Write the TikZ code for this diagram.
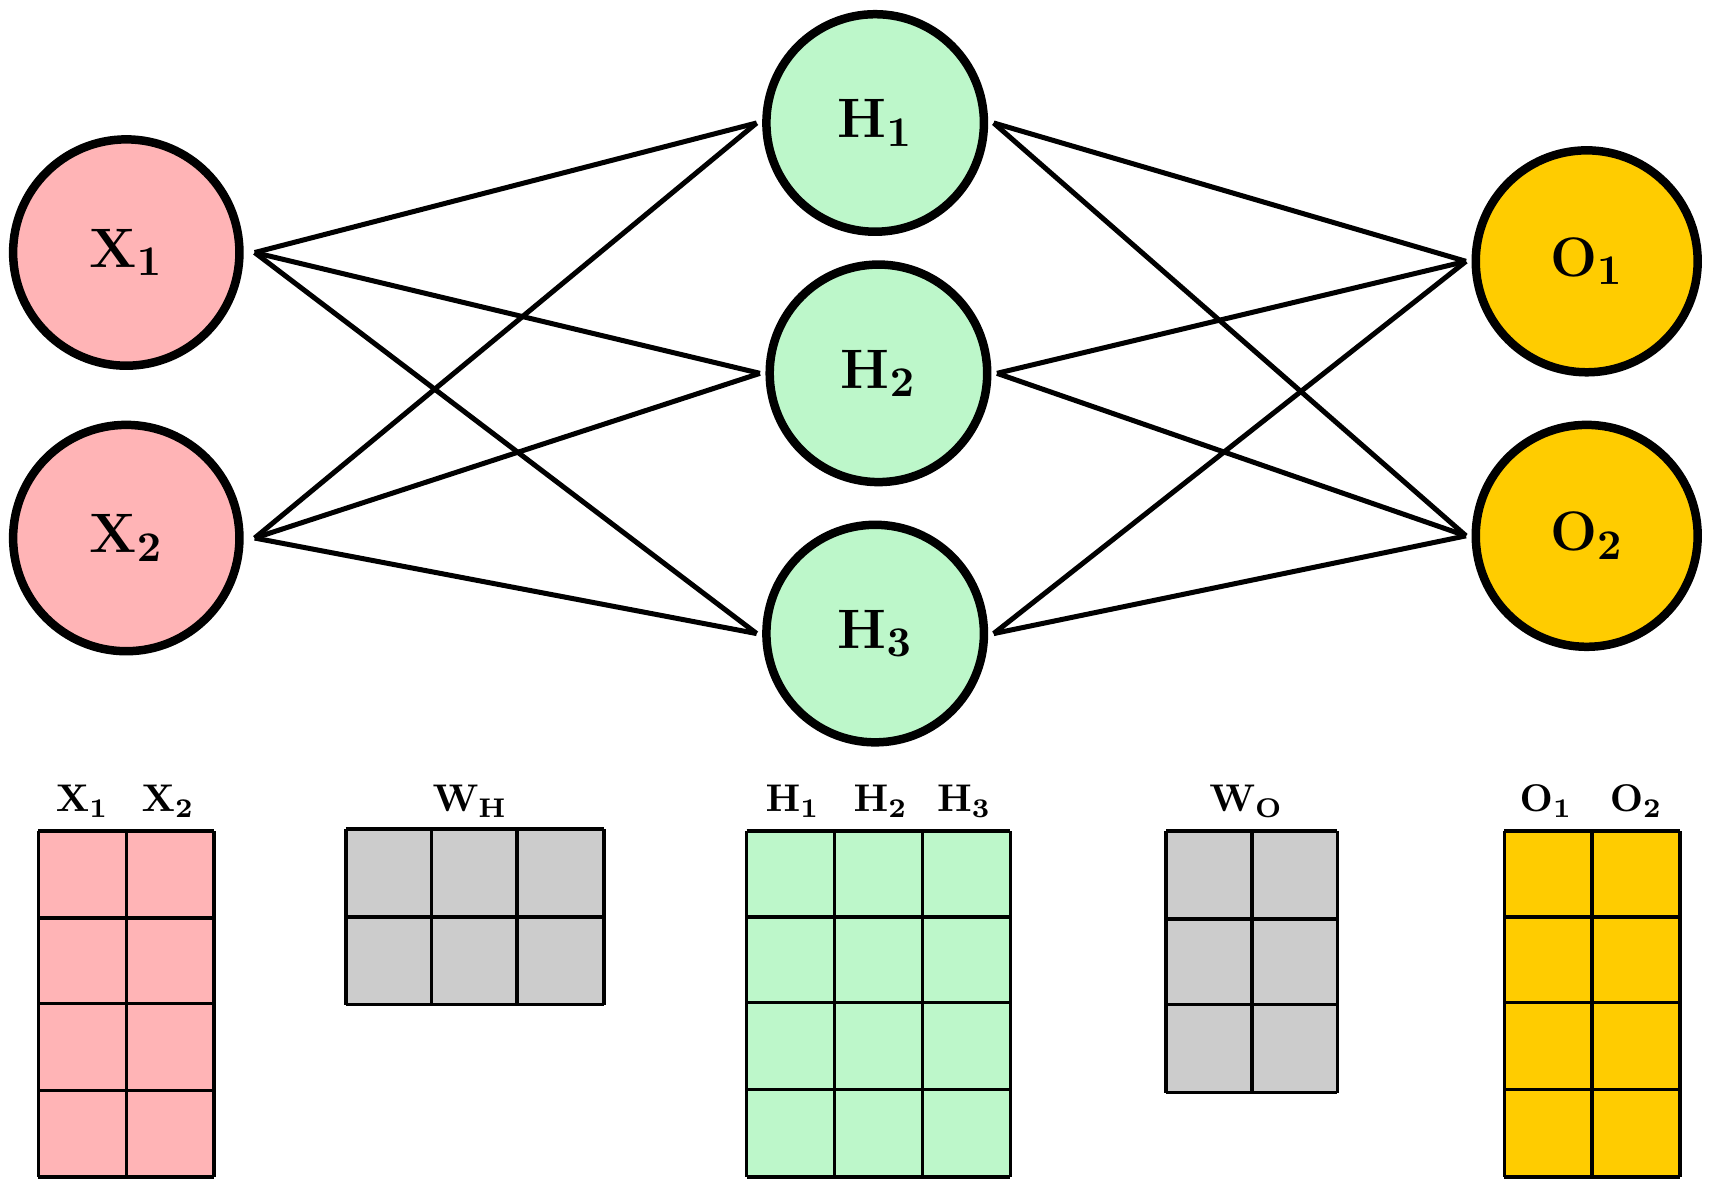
\documentclass[tikz,border=0pt]{standalone}
\usepackage{amsmath}
\usetikzlibrary{positioning}
\definecolor{inpink}{RGB}{255,180,182}
\definecolor{hidgreen}{RGB}{189,247,202}
\definecolor{outgold}{RGB}{255,204,0}
\definecolor{wgray}{RGB}{204,204,204}
\begin{document}
\begin{tikzpicture}[x=0.01cm,y=-0.01cm,
	neuron/.style={circle,draw,line width=2.2pt,minimum size=1.98cm,inner sep=0pt,font=\fontsize{15}{18}\selectfont},
	cell/.style={draw,line width=0.9pt},
	head/.style={font=\fontsize{10}{12}\selectfont}]
	
	\useasboundingbox (0,0) rectangle (1560,1077);
	
	\node[neuron, fill=inpink, minimum size=2.06cm] (x1) at (115,230) {$\mathbf{X}_{\mathbf{1}}$};
	\node[neuron, fill=inpink, minimum size=2.06cm] (x2) at (115,490) {$\mathbf{X}_{\mathbf{2}}$};
	\node[neuron, fill=hidgreen] (h1) at (797,112) {$\mathbf{H}_{\mathbf{1}}$};
	\node[neuron, fill=hidgreen] (h2) at (800,340) {$\mathbf{H}_{\mathbf{2}}$};
	\node[neuron, fill=hidgreen] (h3) at (797,577) {$\mathbf{H}_{\mathbf{3}}$};
	\node[neuron, fill=outgold, minimum size=2.02cm] (o1) at (1445,238) {$\mathbf{O}_{\mathbf{1}}$};
	\node[neuron, fill=outgold, minimum size=2.02cm] (o2) at (1445,488) {$\mathbf{O}_{\mathbf{2}}$};
	
	\foreach \i in {1,2}
	\foreach \j in {1,2,3}
	\draw[line width=1.3pt] ([xshift=0.1cm]x\i.east) -- ([xshift=-0.05cm]h\j.west);
	\foreach \j in {1,2,3}
	\foreach \k in {1,2}
	\draw[line width=1.3pt] ([xshift=0.05cm]h\j.east) -- ([xshift=-0.05cm]o\k.west);
	
	% matrices
	\fill[inpink] (35,757) rectangle (195,1072);
	\foreach \c in {35,115,195} \draw[cell] (\c,757) -- (\c,1072);
	\foreach \r in {757,836,914,993,1072} \draw[cell] (35,\r) -- (195,\r);
	\fill[wgray] (315,755) rectangle (550,915);
	\foreach \c in {315,393,471,550} \draw[cell] (\c,755) -- (\c,915);
	\foreach \r in {755,835,915} \draw[cell] (315,\r) -- (550,\r);
	\fill[hidgreen] (680,757) rectangle (920,1072);
	\foreach \c in {680,760,840,920} \draw[cell] (\c,757) -- (\c,1072);
	\foreach \r in {757,835,913,992,1072} \draw[cell] (680,\r) -- (920,\r);
	\fill[wgray] (1062,757) rectangle (1218,995);
	\foreach \c in {1062,1140,1218} \draw[cell] (\c,757) -- (\c,995);
	\foreach \r in {757,837,915,995} \draw[cell] (1062,\r) -- (1218,\r);
	\fill[outgold] (1370,757) rectangle (1530,1072);
	\foreach \c in {1370,1450,1530} \draw[cell] (\c,757) -- (\c,1072);
	\foreach \r in {757,835,913,992,1072} \draw[cell] (1370,\r) -- (1530,\r);
	
	\node[head] (lx1) at (75,730) {$\mathbf{X}_{\mathbf{1}}$};
	\node[head] (lx2) at (153,730) {$\mathbf{X}_{\mathbf{2}}$};
	\node[head] (lwh) at (428,730) {$\mathbf{W}_{\mathbf{H}}$};
	\node[head] (lh1) at (722,730) {$\mathbf{H}_{\mathbf{1}}$};
	\node[head] (lh2) at (802,730) {$\mathbf{H}_{\mathbf{2}}$};
	\node[head] (lh3) at (878,730) {$\mathbf{H}_{\mathbf{3}}$};
	\node[head] (lwo) at (1135,730) {$\mathbf{W}_{\mathbf{O}}$};
	\node[head] (lo1) at (1408,730) {$\mathbf{O}_{\mathbf{1}}$};
	\node[head] (lo2) at (1490,730) {$\mathbf{O}_{\mathbf{2}}$};
\end{tikzpicture}
\end{document}
